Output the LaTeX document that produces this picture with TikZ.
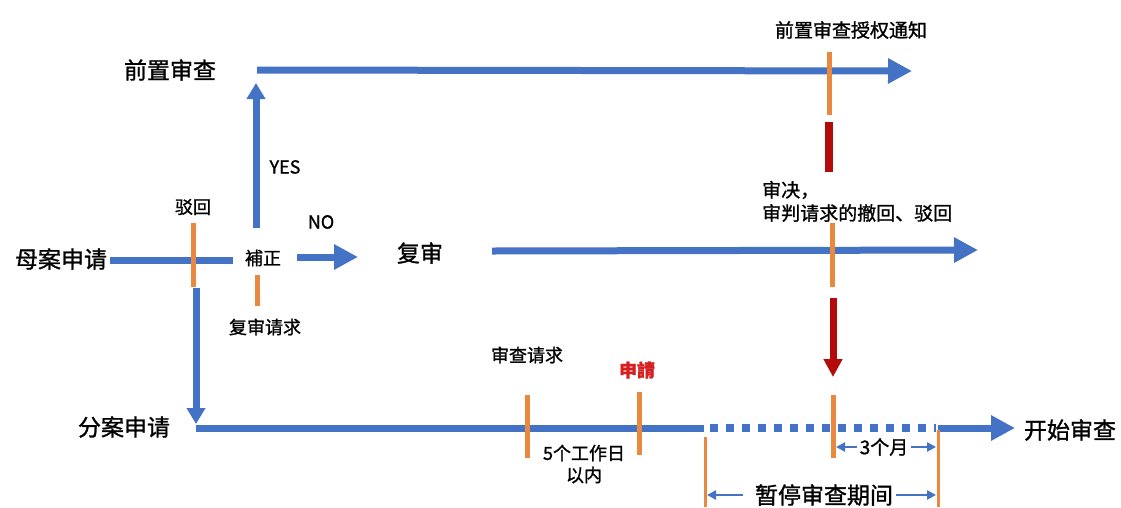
\documentclass[tikz,border=0pt]{standalone}
\usepackage{fontspec}
\setmainfont{Noto Sans CJK SC}[FakeBold=1.2]
\usetikzlibrary{arrows.meta}
\definecolor{myblue}{HTML}{4472C4}
\definecolor{myorange}{HTML}{E8893F}
\definecolor{mydred}{HTML}{B40A0A}
\definecolor{myred}{HTML}{D42020}
\tikzset{
  bigtxt/.style={inner sep=0pt, font=\fontsize{23}{27}\selectfont},
  midtxt/.style={inner sep=0pt, font=\fontsize{18}{22}\selectfont},
  blueline/.style={draw=myblue, line width=7pt},
  bigarrow/.style={blueline, -{Triangle[length=24pt,width=24pt]}},
  vertarrow/.style={blueline, -{Triangle[length=16pt,width=18pt]}},
  tickmark/.style={draw=myorange, line width=5pt},
  thintick/.style={draw=myorange, line width=3pt},
  thinarrow/.style={draw=myblue, line width=2.5pt, -{Triangle[length=9pt,width=9pt]}},
  dotline/.style={draw=myblue, line width=8pt, dash pattern=on 8pt off 8pt},
}
\begin{document}
\begin{tikzpicture}[x=1pt,y=-1pt]
\useasboundingbox (0,0) rectangle (1121,507);

% ---------- texts ----------
\node[bigtxt] (qianzhi) at (170,70) {前置审查};
\node[bigtxt] (muan) at (61,259) {母案申请};
\node[bigtxt] (fushen) at (420,253) {复审};
\node[bigtxt] (fenan) at (124,427) {分案申请};
\node[bigtxt] (kaishi) at (1070,430) {开始审查};
\node[midtxt] (bohui) at (193,207) {驳回};
\node[midtxt] (buzheng) at (263,258) {補正};
\node[midtxt] (yes) at (285,167) {YES};
\node[midtxt] (no) at (321,222) {NO};
\node[midtxt] (fsqq) at (265,327) {复审请求};
\node[midtxt] (scqq) at (527,355) {审查请求};
\node[midtxt, text=myred, font=\fontsize{18}{22}\selectfont\bfseries] (shenqing) at (637,370) {申請};
\node[midtxt] (wuge) at (584,453) {5个工作日};
\node[midtxt] (yinei) at (584,475) {以内};
\node[midtxt, font=\fontsize{19}{23}\selectfont] (tongzhi) at (851,30) {前置审查授权通知};
\node[midtxt, anchor=west, font=\fontsize{19}{23}\selectfont] (shenjue) at (762,190) {审决，};
\node[midtxt, anchor=west, font=\fontsize{19}{23}\selectfont] (chehui) at (762,213) {审判请求的撤回、驳回};
\node[midtxt, font=\fontsize{19}{23}\selectfont] (sangeyue) at (884,447) {3个月};
\node[bigtxt] (zanting) at (824,495) {暂停审查期间};

% ---------- coordinates ----------
\coordinate (topS) at (257,70);
\coordinate (topE) at (912,71);
\coordinate (midS) at (492,251);
\coordinate (midE) at (978,250);
\coordinate (leftS) at (110,260);
\coordinate (leftE) at (233,260);
\coordinate (upS) at (256,228);
\coordinate (upE) at (256,83);
\coordinate (noS) at (297,257);
\coordinate (noE) at (358,257);
\coordinate (downS) at (196,288);
\coordinate (downE) at (196,424);
\coordinate (botS) at (196,428);
\coordinate (botM) at (704,428);
\coordinate (dotE) at (936,428);
\coordinate (finS) at (938,428);
\coordinate (finE) at (1015,428);

% ---------- blue lines ----------
\draw[bigarrow] (topS) -- (topE);
\draw[bigarrow] (midS) -- (midE);
\draw[blueline] (leftS) -- (leftE);
\draw[vertarrow] (upS) -- (upE);
\draw[bigarrow] (noS) -- (noE);
\draw[vertarrow] (downS) -- (downE);
\draw[blueline] (botS) -- (botM);
\draw[dotline] ([xshift=6pt]botM) -- (dotE);
\draw[bigarrow] (finS) -- (finE);

% ---------- orange ticks ----------
\coordinate (t1a) at (193,223); \coordinate (t1b) at (193,287);
\draw[tickmark] (t1a) -- (t1b);
\coordinate (t2a) at (257,275); \coordinate (t2b) at (257,306);
\draw[tickmark] (t2a) -- (t2b);
\coordinate (t3a) at (829,52); \coordinate (t3b) at (829,115);
\draw[tickmark] (t3a) -- (t3b);
\coordinate (t4a) at (832,223); \coordinate (t4b) at (832,287);
\draw[tickmark] (t4a) -- (t4b);
\coordinate (t5a) at (833,395); \coordinate (t5b) at (833,458);
\draw[tickmark] (t5a) -- (t5b);
\coordinate (t6a) at (527,395); \coordinate (t6b) at (527,458);
\draw[tickmark] (t6a) -- (t6b);
\coordinate (t7a) at (639,392); \coordinate (t7b) at (639,455);
\draw[tickmark] (t7a) -- (t7b);
\coordinate (t8a) at (705,437); \coordinate (t8b) at (705,507);
\draw[thintick] (t8a) -- (t8b);
\coordinate (t9a) at (938,430); \coordinate (t9b) at (938,507);
\draw[thintick] (t9a) -- (t9b);

% ---------- dark red ----------
\coordinate (r1a) at (829,122); \coordinate (r1b) at (829,172);
\draw[draw=mydred, line width=8pt] (r1a) -- (r1b);
\coordinate (r2a) at (833,298); \coordinate (r2b) at (833,377);
\draw[draw=mydred, line width=7pt, -{Triangle[length=18pt,width=18pt]}] (r2a) -- (r2b);

% ---------- thin arrows ----------
\draw[thinarrow] ([xshift=-3pt]sangeyue.west) -- ([xshift=3pt]t5a |- sangeyue.west);
\draw[thinarrow] ([xshift=3pt]sangeyue.east) -- ([xshift=-2pt]t9a |- sangeyue.east);
\draw[thinarrow] ([xshift=-12pt]zanting.west) -- ([xshift=2pt]t8a |- zanting.west);
\draw[thinarrow] ([xshift=3pt]zanting.east) -- ([xshift=-2pt]t9a |- zanting.east);
\end{tikzpicture}
\end{document}
